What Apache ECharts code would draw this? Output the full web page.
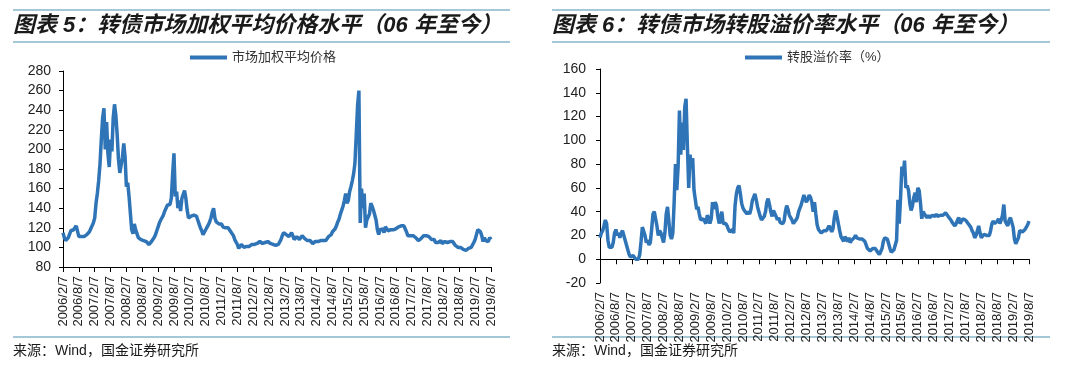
<!DOCTYPE html>
<html><head><meta charset="utf-8">
<script src="https://cdn.jsdelivr.net/npm/echarts@6/dist/echarts.min.js"></script>
<style>html,body{margin:0;padding:0;background:#fff}#c{width:1080px;height:374px}</style>
</head><body><div id="c"></div>
<script>
// Tick labels (every 6 months)
const tickLabels = ['2006/2/7','2006/8/7','2007/2/7','2007/8/7','2008/2/7','2008/8/7','2009/2/7','2009/8/7','2010/2/7','2010/8/7','2011/2/7','2011/8/7','2012/2/7','2012/8/7','2013/2/7','2013/8/7','2014/2/7','2014/8/7','2015/2/7','2015/8/7','2016/2/7','2016/8/7','2017/2/7','2017/8/7','2018/2/7','2018/8/7','2019/2/7','2019/8/7'];

const priceName = '市场加权平均价格';
const premiumName = '转股溢价率（%）';
const titleLeft = '图表 5：转债市场加权平均价格水平（06 年至今）';
const titleRight = '图表 6：转债市场转股溢价率水平（06 年至今）';
const sourceText = '来源：Wind，国金证券研究所';

// Semi-monthly readings (7th and 22nd of each month), 2006/2/7 .. 2019/8/7
const priceValues = [
115,110,107,109,110,111,117,119,118,118,122,120,
111,110,111,112,111,112,113,114,116,119,121,125,
130,145,155,168,185,210,232,242,200,228,196,182,
210,198,232,246,235,215,190,176,174,192,206,192,
162,166,152,135,118,114,124,118,114,110,112,108,
108,107,107,106,105,103,104,106,108,110,113,117,
121,125,128,130,133,137,140,143,142,144,150,175,
196,152,157,140,148,137,150,152,158,150,138,130,
128,132,130,133,131,132,128,124,120,117,113,115,
118,120,123,126,130,136,140,130,126,128,124,123,
124,121,122,120,119,120,118,116,114,112,108,106,
103,99,98,103,101,100,100,101,102,101,102,103,
102,103,103,104,105,106,105,104,104,105,106,106,
104,104,103,103,102,102,101,103,105,108,112,115,
116,113,115,111,113,115,112,108,110,111,110,108,
109,112,111,109,108,107,108,107,105,104,102,106,
107,106,106,107,108,107,106,107,109,111,112,113,
116,117,119,122,126,129,134,138,142,148,155,145,
148,157,162,168,175,186,215,245,260,125,160,140,
155,120,128,130,134,145,142,138,133,128,118,113,
118,116,119,115,121,122,117,116,118,117,118,120,
119,120,121,120,122,121,122,124,116,112,111,112,
112,112,111,110,109,107,106,109,111,112,111,112,
113,111,109,108,110,108,105,103,105,106,107,104,
103,106,106,105,107,106,104,106,105,102,101,100,
101,100,99,98,96,97,99,99,98,100,102,105,
108,113,118,120,116,112,106,110,107,109,106,110,
108];

const premiumValues = [
18,22,24,28,33,30,16,10,9,10,14,22,
25,20,22,18,22,24,20,16,12,8,4,2,
2,3,2,0,-1,0,4,15,27,28,20,14,
16,12,14,25,38,40,34,28,20,24,22,18,
14,22,38,44,32,20,17,22,48,80,58,78,
125,88,115,92,128,135,95,60,88,78,85,58,
50,42,44,38,33,32,34,33,30,37,35,30,
34,48,42,48,45,36,30,35,40,30,29,30,
28,25,23,22,25,22,45,55,60,62,55,47,
43,41,40,38,40,38,42,49,52,55,50,44,
40,36,33,33,36,40,48,51,46,40,36,41,
40,36,33,35,31,32,30,32,40,45,42,37,
35,33,30,31,33,35,40,43,46,50,54,50,
48,51,54,52,48,40,48,38,29,25,24,22,
23,24,23,24,26,28,26,23,26,35,41,36,
30,24,19,18,15,19,17,15,18,14,16,17,
18,20,18,17,17,18,17,18,15,12,9,8,
7,8,9,10,9,7,6,4,4,9,15,18,
17,17,16,9,6,7,8,7,16,50,30,52,
78,70,83,60,62,58,47,41,45,52,56,48,
60,58,48,34,40,38,37,35,37,35,36,37,
37,36,38,36,37,37,38,37,38,39,38,36,
35,33,31,30,28,30,33,35,30,32,34,33,
33,32,30,29,27,24,22,18,20,24,28,22,
18,19,21,22,20,21,20,24,30,32,30,31,
32,34,30,33,37,46,32,30,28,33,35,31,
27,17,13,12,18,24,25,23,22,25,27,29,
32];

// semi-monthly category dates
const categories = [];
for (let k = 0; k < priceValues.length; k++) {
  const m = Math.floor(k / 2) + 1; // months after January 2006
  const y = 2006 + Math.floor(m / 12);
  const mo = (m % 12) + 1;
  categories.push(y + '/' + mo + '/' + (k % 2 === 0 ? 7 : 22));
}

const lineColor = '#2e74b6';
const ruleColor = '#a6c8d6';
const axisFont = '"Liberation Sans", Arial, sans-serif';
const cjkFont = '"Liberation Sans", "Noto Sans CJK SC", sans-serif';

function xAxisCfg(gi) {
  return {
    gridIndex: gi, type: 'category', data: categories, boundaryGap: false,
    axisLine: { lineStyle: { color: '#000', width: 1 } },
    axisTick: { interval: 11, length: 5, lineStyle: { color: '#000' } },
    axisLabel: {
      interval: 11, rotate: 90, fontSize: 13, color: '#222', fontFamily: axisFont, margin: 9,
      formatter: (v, i) => tickLabels[Math.round(i / 12)]
    },
    splitLine: { show: false }
  };
}
function yAxisCfg(gi, mn, mx, margin) {
  return {
    gridIndex: gi, type: 'value', min: mn, max: mx, interval: 20,
    axisLine: { show: true, lineStyle: { color: '#000', width: 1 } },
    axisTick: { show: true, length: 4, lineStyle: { color: '#000' } },
    axisLabel: { fontSize: 14, color: '#222', fontFamily: axisFont, margin: margin },
    splitLine: { show: false }
  };
}
function textEl(x, y, txt, font) {
  return { type: 'text', style: { x: x, y: y, text: txt, font: font, fill: '#1a1a1a',
    textAlign: 'left', textVerticalAlign: 'middle', align: 'left', verticalAlign: 'middle' } };
}
function rule(x1, x2, y) {
  return { type: 'line', shape: { x1: x1, y1: y, x2: x2, y2: y }, style: { stroke: ruleColor, lineWidth: 2 } };
}

const chart = echarts.init(document.getElementById('c'), null, { renderer: 'canvas' });
chart.setOption({
  animation: false,
  backgroundColor: '#fff',
  legend: [
    { data: [priceName], left: 190, top: 51, padding: 0, itemWidth: 37, itemHeight: 4, icon: 'rect',
      textStyle: { fontSize: 13, color: '#333', fontFamily: cjkFont } },
    { data: [premiumName], left: 745, top: 51, padding: 0, itemWidth: 37, itemHeight: 4, icon: 'rect',
      textStyle: { fontSize: 13, color: '#333', fontFamily: cjkFont } }
  ],
  grid: [
    { left: 63, top: 71, width: 428, height: 196 },
    { left: 600, top: 69, width: 429, height: 214 }
  ],
  xAxis: [xAxisCfg(0), xAxisCfg(1)],
  yAxis: [yAxisCfg(0, 80, 280, 12), yAxisCfg(1, -20, 160, 14)],
  series: [
    { type: 'line', name: priceName, xAxisIndex: 0, yAxisIndex: 0, data: priceValues,
      showSymbol: false, lineStyle: { width: 3.5, color: lineColor }, itemStyle: { color: lineColor } },
    { type: 'line', name: premiumName, xAxisIndex: 1, yAxisIndex: 1, data: premiumValues,
      showSymbol: false, lineStyle: { width: 3.5, color: lineColor }, itemStyle: { color: lineColor } }
  ],
  graphic: [
    rule(13, 510, 10), rule(13, 510, 42), rule(13, 510, 337),
    rule(552, 1050, 10), rule(552, 1050, 42), rule(552, 1050, 337),
    textEl(13, 26, titleLeft, 'italic bold 22px "Liberation Sans", "Noto Sans CJK SC", sans-serif'),
    textEl(552, 26, titleRight, 'italic bold 22px "Liberation Sans", "Noto Sans CJK SC", sans-serif'),
    textEl(13, 351, sourceText, '14px "Liberation Sans", "Noto Sans CJK SC", sans-serif'),
    textEl(552, 351, sourceText, '14px "Liberation Sans", "Noto Sans CJK SC", sans-serif')
  ]
});
</script>
</body></html>
